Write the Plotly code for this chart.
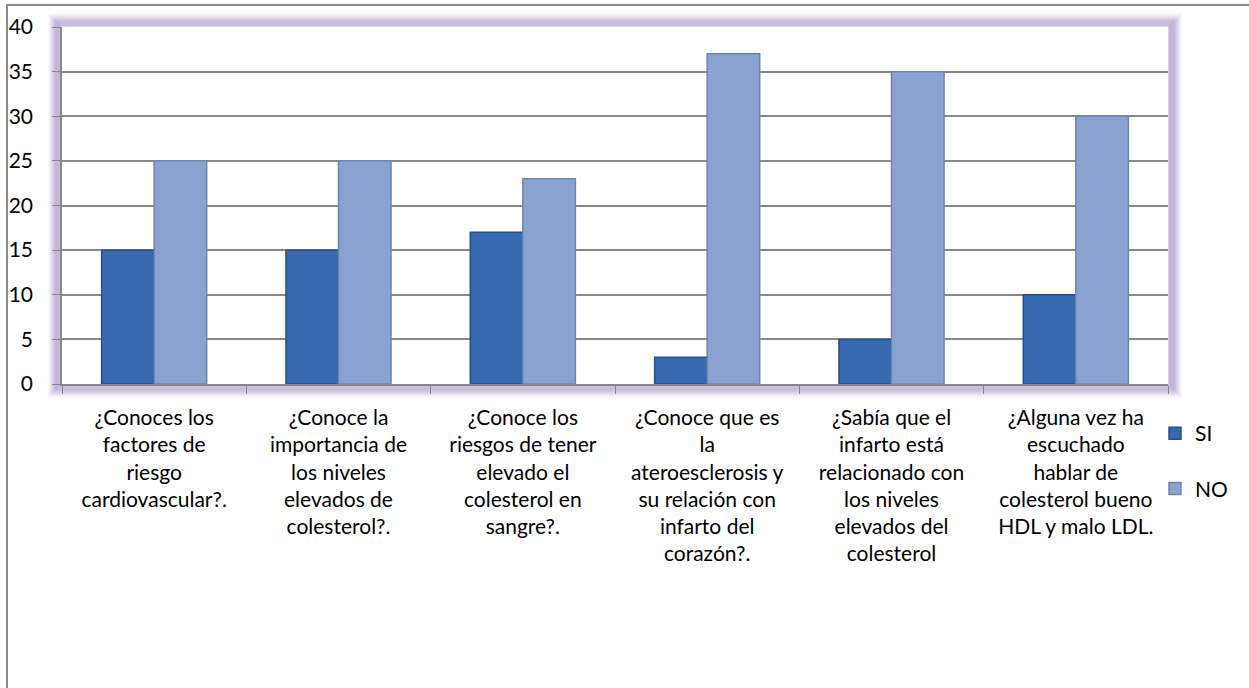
import plotly.graph_objects as go

categories = [
    "¿Conoces los factores de riesgo cardiovascular?.",
    "¿Conoce la importancia de los niveles elevados de colesterol?.",
    "¿Conoce los riesgos de tener elevado el colesterol en sangre?.",
    "¿Conoce que es la ateroesclerosis y su relación con infarto del corazón?.",
    "¿Sabía que el infarto está relacionado con los niveles elevados del colesterol",
    "¿Alguna vez ha escuchado hablar de colesterol bueno HDL y malo LDL.",
]
tick_labels = [
    "¿Conoces los<br>factores de<br>riesgo<br>cardiovascular?.",
    "¿Conoce la<br>importancia de<br>los niveles<br>elevados de<br>colesterol?.",
    "¿Conoce los<br>riesgos de tener<br>elevado el<br>colesterol en<br>sangre?.",
    "¿Conoce que es<br>la<br>ateroesclerosis y<br>su relación con<br>infarto del<br>corazón?.",
    "¿Sabía que el<br>infarto está<br>relacionado con<br>los niveles<br>elevados del<br>colesterol",
    "¿Alguna vez ha<br>escuchado<br>hablar de<br>colesterol bueno<br>HDL y malo LDL.",
]
si_values = [15, 15, 17, 3, 5, 10]
no_values = [25, 25, 23, 37, 35, 30]
y_ticks = [0, 5, 10, 15, 20, 25, 30, 35, 40]

W, H = 1249, 688
L, R, T, B = 62, 81, 27, 304
PW, PH = W - L - R, H - T - B
FONT = "Lato, Calibri, Carlito, Liberation Sans, sans-serif"

fig = go.Figure()
fig.add_trace(go.Bar(
    name="SI", x=categories, y=si_values, legendgroup="si",
    marker=dict(color="#3769b0", line=dict(color="#27508a", width=1.5)),
))
fig.add_trace(go.Bar(
    name="NO", x=categories, y=no_values, legendgroup="no",
    marker=dict(color="#8aa2cf", line=dict(color="#6c85b3", width=1.5)),
))

shapes = []
# purple glow around plot area
for i in range(1, 15):
    dx = i / PW
    dy = i / PH
    if i <= 6:
        op = 0.85
    else:
        op = 0.85 * (1 - (i - 6) / 9) ** 1.5
    shapes.append(dict(
        type="rect", xref="paper", yref="paper",
        x0=-dx, x1=1 + dx, y0=-dy, y1=1 + dy,
        line=dict(color=f"rgba(176,158,204,{op:.3f})", width=1.2),
        fillcolor="rgba(0,0,0,0)", layer="below",
    ))
# outer chart border (top and left)
shapes.append(dict(type="line", xref="paper", yref="paper",
                   x0=-(L - 6) / PW, x1=(W - L + 5) / PW,
                   y0=1 + (T - 5) / PH, y1=1 + (T - 5) / PH,
                   line=dict(color="#8c8c8c", width=2)))
shapes.append(dict(type="line", xref="paper", yref="paper",
                   x0=-(L - 7) / PW, x1=-(L - 7) / PW,
                   y0=-(B + 5) / PH, y1=1 + (T - 5) / PH,
                   line=dict(color="#8c8c8c", width=2)))

fig.update_layout(
    width=W, height=H,
    margin=dict(l=L, r=R, t=T, b=B, autoexpand=False),
    paper_bgcolor="white", plot_bgcolor="white",
    font=dict(family=FONT, size=21, color="black"),
    barmode="group", bargap=0.43, bargroupgap=0.0,
    shapes=shapes,
    showlegend=True,
    legend=dict(x=1 - 13 / PW, xanchor="left", y=-(413 - 384) / PH,
                yanchor="top",
                tracegroupgap=25, font=dict(size=21, family=FONT),
                itemwidth=30, bgcolor="rgba(0,0,0,0)"),
    xaxis=dict(
        tickmode="array", tickvals=categories, ticktext=tick_labels,
        tickson="boundaries", ticks="outside", ticklen=8, tickcolor="#888888",
        showline=True, linecolor="#888888", linewidth=1.5,
        showgrid=False, tickangle=0, ticklabelstandoff=14,
        tickfont=dict(size=21, family=FONT, color="black"),
    ),
    yaxis=dict(
        range=[0, 40], tickmode="array", tickvals=y_ticks,
        ticks="outside", ticklen=8, tickcolor="#888888",
        showline=True, linecolor="#888888", linewidth=1.5,
        showgrid=True, gridcolor="#888888", gridwidth=1.5,
        zeroline=False, ticklabelstandoff=15,
        tickfont=dict(size=21, family=FONT, color="black"),
    ),
)

fig.write_html("out.html", config={"displayModeBar": False},
               post_script="document.body.style.margin='0px';")
